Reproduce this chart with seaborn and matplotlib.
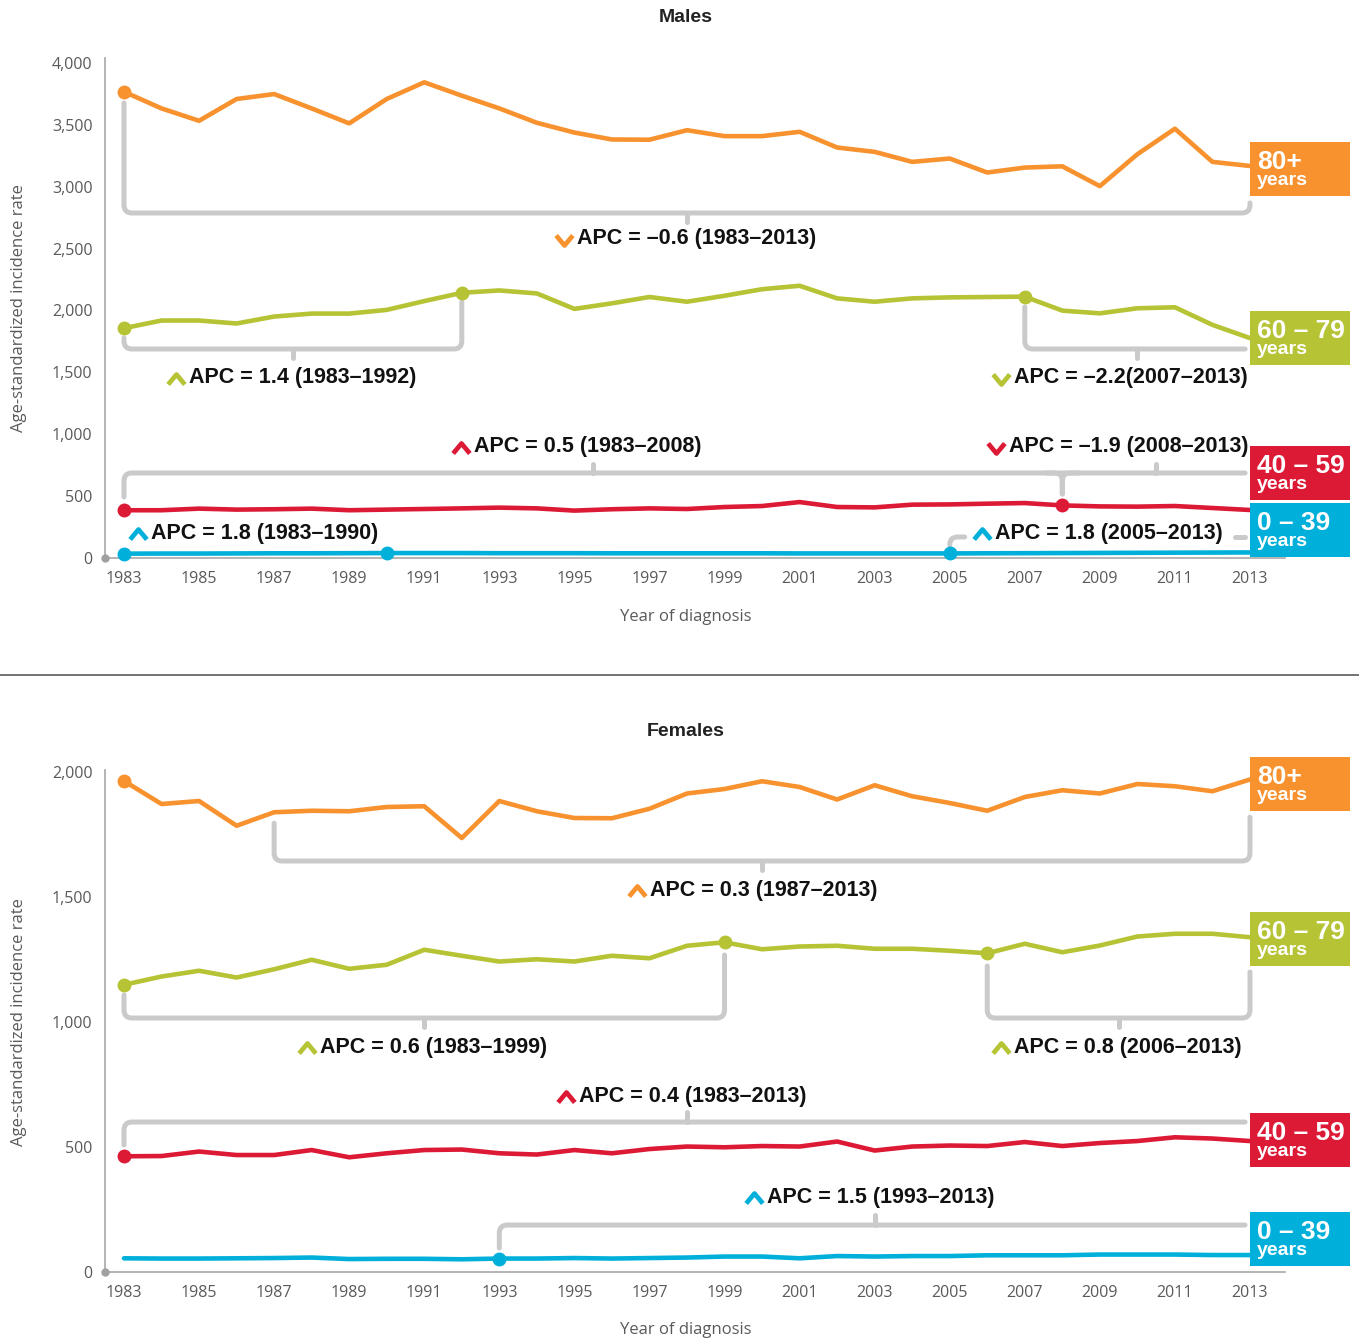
import numpy as np
import pandas as pd
import matplotlib
matplotlib.use("Agg")
import matplotlib.pyplot as plt
import seaborn as sns
from matplotlib.path import Path
from matplotlib.patches import PathPatch, Rectangle

# ---------------- data ----------------
years = list(range(1983, 2014))
ages = ["80+", "60 – 79", "40 – 59", "0 – 39"]

males_80 = [3768, 3633, 3533, 3709, 3749, 3633, 3512, 3709, 3844, 3736, 3633,
            3517, 3438, 3382, 3380, 3457, 3409, 3409, 3444, 3317, 3282, 3201,
            3228, 3115, 3155, 3165, 3005, 3263, 3469, 3201, 3168]
males_60 = [1857, 1919, 1919, 1895, 1951, 1975, 1975, 2005, 2076, 2143, 2162,
            2138, 2013, 2058, 2109, 2071, 2119, 2172, 2200, 2098, 2071, 2098,
            2106, 2109, 2112, 1999, 1977, 2018, 2026, 1884, 1777]
males_40 = [386, 386, 399, 391, 394, 399, 386, 391, 396, 401, 407,
            401, 383, 394, 401, 396, 412, 420, 452, 412, 409, 431,
            433, 439, 444, 425, 417, 415, 420, 404, 388]
males_0 = [35, 36, 36, 37, 38, 38, 39, 40, 40, 40, 39,
           39, 39, 38, 38, 38, 38, 38, 37, 37, 37, 37,
           37, 38, 39, 40, 41, 42, 43, 44, 45]

females_80 = [1965, 1873, 1885, 1786, 1840, 1846, 1844, 1861, 1864, 1737, 1885,
              1844, 1817, 1816, 1854, 1915, 1933, 1964, 1941, 1891, 1948, 1904,
              1877, 1846, 1901, 1928, 1915, 1953, 1944, 1924, 1971]
females_60 = [1150, 1183, 1206, 1179, 1212, 1250, 1214, 1230, 1290, 1266, 1243,
              1252, 1243, 1266, 1256, 1306, 1320, 1292, 1303, 1306, 1294, 1294,
              1286, 1276, 1314, 1280, 1307, 1343, 1354, 1354, 1340]
females_40 = [464, 465, 483, 469, 469, 489, 460, 476, 489, 491, 476,
              471, 489, 476, 493, 503, 500, 505, 503, 523, 487, 503,
              507, 505, 521, 505, 517, 525, 540, 535, 525]
females_0 = [56, 55, 55, 56, 57, 59, 53, 54, 54, 52, 55,
             55, 57, 55, 57, 59, 63, 63, 56, 65, 63, 65,
             65, 68, 68, 68, 71, 71, 71, 69, 69]

# joinpoint years (marked with dots)
males_joins = {"80+": [1983], "60 – 79": [1983, 1992, 2007],
               "40 – 59": [1983, 2008], "0 – 39": [1983, 1990, 2005]}
females_joins = {"80+": [1983], "60 – 79": [1983, 1999, 2006],
                 "40 – 59": [1983], "0 – 39": [1993]}

colors = ["#F7922F", "#B5C334", "#DC1A36", "#00B0DA"]
palette = dict(zip(ages, colors))
GRAY = "#CACACA"
BLW = 3.6
BOLD = ["Liberation Sans", "DejaVu Sans"]

sns.set_theme(style="white")
plt.rcParams["font.family"] = ["Open Sans", "DejaVu Sans"]

W, H = 1359, 1341
fig = plt.figure(figsize=(W / 100, H / 100), dpi=100)

PXX = 1 / 37.533          # years per pixel
x_lo, x_hi = 1982.494, 2013.933


def fpos(left, right, top, bottom):
    return [left / W, 1 - bottom / H, (right - left) / W, (bottom - top) / H]


ax_m = fig.add_axes(fpos(105, 1285, 58, 558))
ax_f = fig.add_axes(fpos(105, 1285, 770, 1272.3))


def long_df(series):
    frames = [pd.DataFrame({"year": years, "rate": v, "age": a}) for a, v in series.items()]
    return pd.concat(frames, ignore_index=True)


def bracket(ax, pts, rx, ry):
    verts = [pts[0]]
    codes = [Path.MOVETO]
    r = np.array([rx, ry])
    for i in range(1, len(pts) - 1):
        p0, p1, p2 = [np.array(p, dtype=float) for p in pts[i - 1:i + 2]]
        d1 = np.sign(p1 - p0)
        d2 = np.sign(p2 - p1)
        verts += [tuple(p1 - d1 * r), tuple(p1), tuple(p1 + d2 * r)]
        codes += [Path.LINETO, Path.CURVE3, Path.CURVE3]
    verts.append(pts[-1])
    codes.append(Path.LINETO)
    ax.add_patch(PathPatch(Path(verts, codes), fill=False, edgecolor=GRAY, lw=BLW,
                           capstyle="round", joinstyle="round", clip_on=False, zorder=1))


labels = []


def apc_label(ax, x, y, text, color, up, ha="center"):
    t = ax.text(x, y, text, ha=ha, va="center", fontsize=15.5, fontweight="bold",
                family=BOLD, color="#111111", zorder=5)
    labels.append((ax, t, color, up))


def age_box(ax, yc, h, label, color):
    w = 100 * PXX
    ax.add_patch(Rectangle((2013, yc - h / 2), w, h, facecolor=color, lw=0,
                           clip_on=False, zorder=6))
    ax.annotate(label, xy=(2013, yc + h / 2), xytext=(7, -27), textcoords="offset pixels",
                ha="left", va="baseline", fontsize=19, fontweight="bold", family=BOLD,
                color="white", annotation_clip=False, zorder=7)
    ax.annotate("years", xy=(2013, yc + h / 2), xytext=(7, -43), textcoords="offset pixels",
                ha="left", va="baseline", fontsize=14, fontweight="bold", family=BOLD,
                color="white", annotation_clip=False, zorder=7)


def style_axes(ax, ymax, major, minor=None):
    ax.set_xlim(x_lo, x_hi)
    ax.set_ylim(0, ymax)
    ax.set_xticks(range(1983, 2014, 2))
    ax.set_yticks(major)
    ax.set_yticklabels([f"{v:,}" for v in major])
    if minor is not None:
        ax.set_yticks(minor, minor=True)
    for s in ["top", "right"]:
        ax.spines[s].set_visible(False)
    for s in ["left", "bottom"]:
        ax.spines[s].set_color("#A8A8A8")
        ax.spines[s].set_linewidth(1.2)
    ax.tick_params(axis="both", which="both", direction="out", colors="#A8A8A8",
                   labelcolor="#5A5A5A", labelsize=11.5, length=5, width=1)
    ax.tick_params(axis="x", pad=4)
    ax.tick_params(axis="y", pad=4)
    ax.set_xlabel("")
    ax.set_ylabel("")
    ax.grid(False)
    ax.set_facecolor("none")
    ax.plot([x_lo], [0], "o", color="#A0A0A0", ms=5, clip_on=False, zorder=8)


def draw_panel(ax, series, joins):
    df = long_df(series)
    sns.lineplot(data=df, x="year", y="rate", hue="age", hue_order=ages, palette=palette,
                 linewidth=3.3, legend=False, ax=ax, zorder=3,
                 solid_joinstyle="round", solid_capstyle="round")
    for age in ages:
        vals = series[age]
        jy = joins[age]
        ax.plot(jy, [vals[years.index(y)] for y in jy], "o", color=palette[age],
                ms=9, zorder=4, clip_on=False)


# ---------------- Males ----------------
males = dict(zip(ages, [males_80, males_60, males_40, males_0]))
draw_panel(ax_m, males, males_joins)
SY = 0.12375
style_axes(ax_m, 500 / SY, list(range(0, 4001, 500)))
rx, ry = 8 * PXX, 8 / SY
sh = 0.25  # label shift to make room for chevron

# 80+ 1983-2013
bracket(ax_m, [(1983, 3677), (1983, 2788), (2013, 2788), (2013, 2869)], rx, ry)
bracket(ax_m, [(1998, 2788), (1998, 2715)], rx, ry)
apc_label(ax_m, 1998 + sh, 2578, "APC = –0.6 (1983–2013)", colors[0], False)
# 60-79 1983-1992 / 2007-2013
bracket(ax_m, [(1983, 1778), (1983, 1689), (1992, 1689), (1992, 2069)], rx, ry)
bracket(ax_m, [(1987.5, 1689), (1987.5, 1616)], rx, ry)
apc_label(ax_m, 1987.5 + sh, 1455, "APC = 1.4 (1983–1992)", colors[1], True)
bracket(ax_m, [(2007, 2028), (2007, 1689), (2012.87, 1689)], rx, ry)
bracket(ax_m, [(2010, 1689), (2010, 1616)], rx, ry)
apc_label(ax_m, 2012.95, 1455, "APC = –2.2(2007–2013)", colors[1], False, ha="right")
# 40-59 1983-2008 / 2008-2013
bracket(ax_m, [(1983, 493), (1983, 687), (2012.87, 687)], rx, ry)
bracket(ax_m, [(2008 - 2 * rx, 687), (2008, 687), (2008, 517)], rx, ry)
bracket(ax_m, [(2008 + 2 * rx, 687), (2008, 687), (2008, 517)], rx, ry)
bracket(ax_m, [(1995.5, 687), (1995.5, 760)], rx, ry)
bracket(ax_m, [(2010.5, 687), (2010.5, 760)], rx, ry)
apc_label(ax_m, 1995.5 + sh - 0.4, 897, "APC = 0.5 (1983–2008)", colors[2], True)
apc_label(ax_m, 2012.95, 897, "APC = –1.9 (2008–2013)", colors[2], False, ha="right")
# 0-39 1983-1990 / 2005-2013
apc_label(ax_m, 1986.5 + sh, 202, "APC = 1.8 (1983–1990)", colors[3], True)
bracket(ax_m, [(2005, 105), (2005, 170), (2005.4, 170)], rx, ry)
bracket(ax_m, [(2012.6, 170), (2012.87, 170)], rx, ry)
apc_label(ax_m, 2009 + sh, 202, "APC = 1.8 (2005–2013)", colors[3], True)

bh_m = 54 / SY
for yc, age, c in zip([3147, 1778, 687, 226], ages, colors):
    age_box(ax_m, yc, bh_m, age, c)

# ---------------- Females ----------------
females = dict(zip(ages, [females_80, females_60, females_40, females_0]))
draw_panel(ax_f, females, females_joins)
style_axes(ax_f, 2009, list(range(0, 2001, 500)), list(range(250, 2000, 500)))
ry = 8 * 4

bracket(ax_f, [(1987, 1796), (1987, 1645), (2013, 1645), (2013, 1820)], rx, ry)
bracket(ax_f, [(2000, 1645), (2000, 1609)], rx, ry)
apc_label(ax_f, 2000 + sh - 0.2, 1529, "APC = 0.3 (1987–2013)", colors[0], True)

bracket(ax_f, [(1983, 1109), (1983, 1017), (1999, 1017), (1999, 1269)], rx, ry)
bracket(ax_f, [(1991, 1017), (1991, 981)], rx, ry)
apc_label(ax_f, 1991 + sh, 901, "APC = 0.6 (1983–1999)", colors[1], True)
bracket(ax_f, [(2006, 1225), (2006, 1017), (2013, 1017), (2013, 1201)], rx, ry)
bracket(ax_f, [(2009.5, 1017), (2009.5, 981)], rx, ry)
apc_label(ax_f, 2009.5 + sh, 901, "APC = 0.8 (2006–2013)", colors[1], True)

bracket(ax_f, [(1983, 509), (1983, 601), (2012.87, 601)], rx, ry)
bracket(ax_f, [(1998, 601), (1998, 641)], rx, ry)
apc_label(ax_f, 1998 + sh - 0.1, 705, "APC = 0.4 (1983–2013)", colors[2], True)

bracket(ax_f, [(1993, 97), (1993, 189), (2012.87, 189)], rx, ry)
bracket(ax_f, [(2003, 189), (2003, 229)], rx, ry)
apc_label(ax_f, 2003 + sh - 0.1, 301, "APC = 1.5 (1993–2013)", colors[3], True)

bh_f = 54 * 4
for yc, age, c in zip([1953, 1333, 529, 133], ages, colors):
    age_box(ax_f, yc, bh_f, age, c)

# ---------------- figure texts ----------------
fig.text(686 / W, 1 - 18 / H, "Males", ha="center", va="center", fontsize=14,
         fontweight="bold", family=BOLD, color="#222222")
fig.text(686 / W, 1 - 731 / H, "Females", ha="center", va="center", fontsize=14,
         fontweight="bold", family=BOLD, color="#222222")
for yc in [308, 1022]:
    fig.text(19 / W, 1 - yc / H, "Age-standardized incidence rate", rotation=90,
             ha="center", va="center", fontsize=12, color="#5A5A5A")
for yc in [617, 1330]:
    fig.text(686 / W, 1 - yc / H, "Year of diagnosis", ha="center", va="center",
             fontsize=12, color="#5A5A5A")
fig.add_artist(plt.Line2D([0, 1], [1 - 675 / H, 1 - 675 / H], color="#5A5A5A", lw=1.2))

# ---------------- chevrons next to APC labels ----------------
chev_up = Path([(-1, -0.6), (0, 0.6), (1, -0.6)],
               [Path.MOVETO, Path.LINETO, Path.LINETO])
chev_dn = Path([(-1, 0.6), (0, -0.6), (1, 0.6)],
               [Path.MOVETO, Path.LINETO, Path.LINETO])

fig.canvas.draw()
renderer = fig.canvas.get_renderer()
for ax, t, c, up in labels:
    bb = t.get_window_extent(renderer)
    cx, cy = ax.transData.inverted().transform((bb.x0 - 13, (bb.y0 + bb.y1) / 2 - 1))
    ax.plot([cx], [cy], marker=chev_up if up else chev_dn, ms=12, mfc="none",
            mec=c, mew=3.4, clip_on=False, zorder=5)

fig.savefig("out.png", dpi=100)
